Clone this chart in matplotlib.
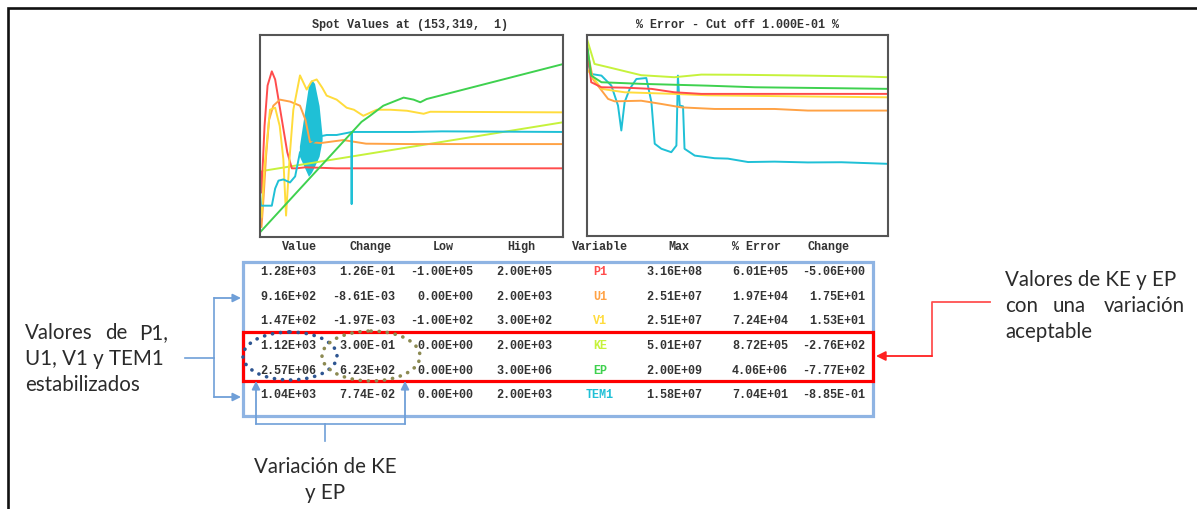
import matplotlib
matplotlib.use("Agg")
import matplotlib.pyplot as plt
from matplotlib.patches import Rectangle, Ellipse

# ---------------- data ----------------
# Spot values plot (x, y in % of axes)
spot_P1_x = [0.3, 0.5, 1.5, 2.5, 3.9, 5.0, 7.0, 9.0, 10.5, 12, 15, 25, 100]
spot_P1_y = [32, 22, 55, 75, 82, 78, 60, 42, 34, 34, 34.5, 34, 34]
spot_U1_x = [0.5, 1.2, 2.0, 3.0, 4.4, 6.6, 10, 13.2, 15, 16.5, 20, 27.5, 35, 50, 100]
spot_U1_y = [5, 20, 40, 58, 65, 68, 67, 65, 58, 47, 46.5, 48, 46.2, 46, 46]
spot_V1_x = [0.5, 1.5, 3.3, 5.0, 6.5, 7.7, 8.6, 9.8, 11, 13.2, 15.4, 17, 18.7, 20.5, 22,
             25.3, 28.6, 31, 34.1, 38.5, 43, 48.5, 54, 56.2, 100]
spot_V1_y = [10, 35, 63, 64, 55, 38.6, 10.6, 40, 63, 80, 73, 77, 78, 74, 70,
             68, 64, 63, 60, 63, 63, 62.5, 61, 62, 61.7]
spot_TEM1_x = [0.0, 0.1, 0.3, 3.9, 5.0, 6.1, 7.7, 9.9, 11.6, 13.2, 20.4, 22, 25.3, 29.7,
               30.2, 30.25, 30.3, 35, 50, 60, 100]
spot_TEM1_y = [32, 20, 15.5, 15.5, 24, 27.9, 28.5, 27, 30, 42, 50, 50.5, 50.5, 51.8,
               52, 16.3, 52, 52, 52, 52.3, 52]
spot_TEM1_band_x = [13.0, 14.5, 16.0, 17.0, 18.0, 19.5, 20.5]
spot_TEM1_band_lo = [40, 35, 30, 32, 35, 40, 48]
spot_TEM1_band_hi = [45, 60, 75, 78, 76, 65, 50]
spot_KE_x = [0, 100]
spot_KE_y = [32.5, 56.8]
spot_EP_x = [0, 30.8, 33.5, 36.3, 40.7, 47.4, 50.7, 52.9, 55, 100]
spot_EP_y = [2.3, 52.6, 57, 60, 65, 69, 68, 66.7, 68.3, 85.6]

# % Error plot
err_KE_x = [0, 2.5, 7, 18, 29, 38, 51.3, 73.4, 93.4, 100]
err_KE_y = [98, 85.6, 84, 80, 79, 80.3, 80.2, 79.8, 79.3, 79]
err_EP_x = [0, 1.4, 4.8, 18, 40, 55.7, 84.5, 100]
err_EP_y = [96, 79.8, 76.5, 75.7, 74.8, 74, 73.5, 73.2]
err_P1_x = [0, 1.4, 4.8, 12.5, 21.4, 29, 38, 60, 100]
err_P1_y = [94, 76.5, 74, 73.8, 73.2, 71.5, 70.7, 70.7, 70.7]
err_V1_x = [0, 4.8, 12.5, 29, 40, 68, 100]
err_V1_y = [83, 73.2, 71.5, 70.7, 70, 69.5, 69]
err_U1_x = [0, 2.0, 7, 9.2, 18, 24.7, 31.3, 42.4, 62.3, 73.4, 100]
err_U1_y = [93, 78, 68.2, 67, 67.3, 65.7, 64, 63.2, 63.2, 62.4, 62.4]
err_TEM1_x = [0, 1.4, 4.8, 8.1, 10.3, 11.4, 12.5, 14.2, 16.4, 19.7, 21.4, 22.5, 24.7, 28,
              29.7, 30.2, 30.8, 31.9, 32.4, 35.8, 42.4, 46.8, 53.5, 62.3, 73.4, 84.5, 100]
err_TEM1_y = [88, 80.6, 79.8, 74.8, 64.9, 52.5, 66.6, 73.2, 78.1, 78.6, 66.6, 45.9, 43.4,
              41.7, 45, 79.8, 64.9, 64.5, 43.4, 40, 38.7, 38.5, 36.8, 37, 36.6, 36.7, 35.9]

# table
col_left = ["Value", "Change", "Low", "High"]
col_right = ["Variable", "Max", "% Error", "Change"]
variables = ["P1", "U1", "V1", "KE", "EP", "TEM1"]
values = ["1.28E+03", "9.16E+02", "1.47E+02", "1.12E+03", "2.57E+06", "1.04E+03"]
changes = ["1.26E-01", "-8.61E-03", "-1.97E-03", "3.00E-01", "6.23E+02", "7.74E-02"]
lows = ["-1.00E+05", "0.00E+00", "-1.00E+02", "0.00E+00", "0.00E+00", "0.00E+00"]
highs = ["2.00E+05", "2.00E+03", "3.00E+02", "2.00E+03", "3.00E+06", "2.00E+03"]
maxs = ["3.16E+08", "2.51E+07", "2.51E+07", "5.01E+07", "2.00E+09", "1.58E+07"]
errors = ["6.01E+05", "1.97E+04", "7.24E+04", "8.72E+05", "4.06E+06", "7.04E+01"]
changes2 = ["-5.06E+00", "1.75E+01", "1.53E+01", "-2.76E+02", "-7.77E+02", "-8.85E-01"]

var_colors = {"P1": "#ff4c4c", "U1": "#ffa245", "V1": "#ffdc3c",
              "KE": "#c6f23c", "EP": "#3fd14f", "TEM1": "#1fc0d6"}

# ---------------- figure ----------------
W, H = 1197, 510
fig = plt.figure(figsize=(W / 100, H / 100), dpi=100)
fig.patch.set_facecolor("white")

ov = fig.add_axes([0, 0, 1, 1])
ov.set_xlim(0, W)
ov.set_ylim(H, 0)
ov.axis("off")

mono = "Liberation Mono"
fs_mono = 8.5
tcol = "#333333"
mw = "bold"


def px_axes(l, t, r, b):
    return fig.add_axes([l / W, (H - b) / H, (r - l) / W, (b - t) / H])


def style_ax(ax):
    ax.set_xlim(0, 100)
    ax.set_ylim(0, 100)
    ax.set_xticks([])
    ax.set_yticks([])
    for s in ax.spines.values():
        s.set_color("#555555")
        s.set_linewidth(1.5)


lw = 1.4
ax1 = px_axes(260, 36, 563, 238)
style_ax(ax1)
ax1.fill_between(spot_TEM1_band_x, spot_TEM1_band_lo, spot_TEM1_band_hi,
                 color=var_colors["TEM1"], lw=0)
ax1.plot(spot_KE_x, spot_KE_y, color=var_colors["KE"], lw=lw)
ax1.plot(spot_P1_x, spot_P1_y, color=var_colors["P1"], lw=lw)
ax1.plot(spot_U1_x, spot_U1_y, color=var_colors["U1"], lw=lw)
ax1.plot(spot_V1_x, spot_V1_y, color=var_colors["V1"], lw=lw)
ax1.plot(spot_TEM1_x, spot_TEM1_y, color=var_colors["TEM1"], lw=lw)
ax1.plot(spot_EP_x, spot_EP_y, color=var_colors["EP"], lw=lw)

ax2 = px_axes(587, 36, 888, 237)
style_ax(ax2)
ax2.plot(err_TEM1_x, err_TEM1_y, color=var_colors["TEM1"], lw=lw)
ax2.plot(err_U1_x, err_U1_y, color=var_colors["U1"], lw=lw)
ax2.plot(err_V1_x, err_V1_y, color=var_colors["V1"], lw=lw)
ax2.plot(err_P1_x, err_P1_y, color=var_colors["P1"], lw=lw)
ax2.plot(err_EP_x, err_EP_y, color=var_colors["EP"], lw=lw)
ax2.plot(err_KE_x, err_KE_y, color=var_colors["KE"], lw=lw)


def mtext(x, y, t, ha="center", color=tcol):
    ov.text(x, y, t, family=mono, fontsize=fs_mono, fontweight=mw,
            color=color, ha=ha, va="center")


# titles
mtext(410, 25, "Spot Values at (153,319,  1)")
mtext(738, 25, "% Error - Cut off 1.000E-01 %")

# column headers
for x, t in zip([299, 370, 443, 521], col_left):
    mtext(x, 247, t)
for x, t in zip([600, 679, 757, 829], col_right):
    mtext(x, 247, t)

# table rows
row_y = [272, 297, 321, 346, 371, 395]
for i, y in enumerate(row_y):
    mtext(316, y, values[i], ha="right")
    mtext(395, y, changes[i], ha="right")
    mtext(473, y, lows[i], ha="right")
    mtext(552, y, highs[i], ha="right")
    mtext(600, y, variables[i], color=var_colors[variables[i]])
    mtext(702, y, maxs[i], ha="right")
    mtext(788, y, errors[i], ha="right")
    mtext(865, y, changes2[i], ha="right")

# boxes
blue = "#8fb4e3"
ov.add_patch(Rectangle((243, 263), 630, 154, fill=False, ec=blue, lw=2.3))
ov.add_patch(Rectangle((243, 333), 630, 49, fill=False, ec="#ff0000", lw=2.3, zorder=3))

# dotted ellipses
e1 = Ellipse((290, 357), 94, 48, fill=False, ec="#2e5591", lw=2.6,
             linestyle=(0, (0.05, 2.2)), zorder=4)
e2 = Ellipse((371, 357), 98, 50, fill=False, ec="#8c8a52", lw=2.6,
             linestyle=(0, (0.05, 2.2)), zorder=4)
for e in (e1, e2):
    e.set_capstyle("round")
    ov.add_patch(e)

# outer frame
ov.plot([8, 8, W], [H, 9, 9], color="#111111", lw=1.9, solid_joinstyle="miter")

arr_blue = "#6f9fd8"


def arrow(xy, xytext, color, lw_=1.3, ms=12):
    ov.annotate("", xy=xy, xytext=xytext,
                arrowprops=dict(arrowstyle="-|>", color=color, lw=lw_,
                                mutation_scale=ms, shrinkA=0, shrinkB=0))


# left bracket
ov.plot([185, 214], [359, 359], color=arr_blue, lw=1.2)
ov.plot([214, 214], [299, 398], color=arr_blue, lw=1.2)
arrow((241, 299), (214, 299), arr_blue)
arrow((241, 398), (214, 398), arr_blue)

# bottom bracket
ov.plot([256, 405], [425, 425], color=arr_blue, lw=1.2)
ov.plot([325, 325], [425, 442], color=arr_blue, lw=1.2)
arrow((256, 382), (256, 425), arr_blue)
arrow((405, 382), (405, 425), arr_blue)

# right red connector
red_l = "#ff5050"
ov.plot([990, 932, 932], [303, 303, 357], color=red_l, lw=1.3)
arrow((876, 357), (932, 357), "#ff2020", lw_=1.3, ms=14)

# annotation texts
sans = "Lato"
fs_s = 14.8
acol = "#2b2b2b"


def word(x, y, t, ha="left"):
    ov.text(x, y, t, family=sans, fontsize=fs_s, color=acol, ha=ha, va="center")


word(25, 333, "Valores")
word(116, 333, "de", ha="center")
word(168, 333, "P1,", ha="right")
word(25, 359, "U1, V1 y TEM1")
word(25, 385, "estabilizados")

word(325, 467, "Variación de KE", ha="center")
word(325, 493, "y EP", ha="center")

word(1005, 280, "Valores de KE y EP")
word(1005, 306, "con")
word(1069, 306, "una", ha="center")
word(1185, 306, "variación", ha="right")
word(1005, 332, "aceptable")

fig.savefig("out.png", dpi=100, facecolor="white")
